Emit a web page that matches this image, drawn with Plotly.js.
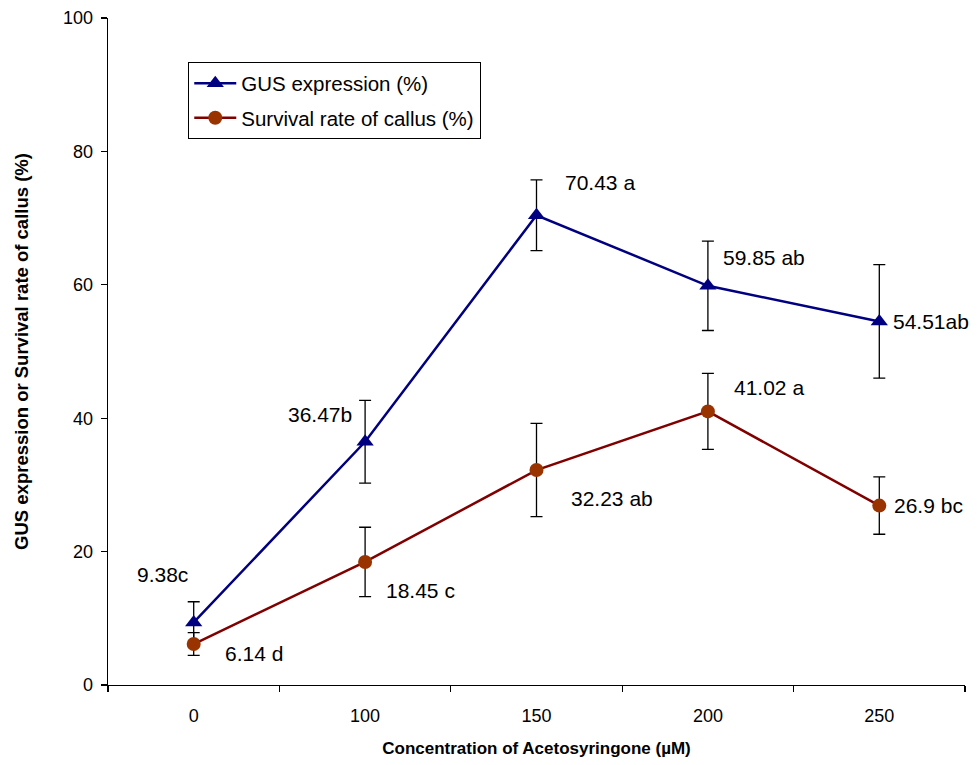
<!DOCTYPE html>
<html>
<head>
<meta charset="utf-8">
<script src="https://cdn.plot.ly/plotly-3.0.1.min.js"></script>
<style>html,body{margin:0;padding:0;background:#fff;}#chart{width:980px;height:765px;}</style>
</head>
<body>
<div id="chart"></div>
<script>
const categories = ['0', '100', '150', '200', '250'];
const gusValues = [9.38, 36.47, 70.43, 59.85, 54.51];
const gusErrors = [3.1, 6.2, 5.3, 6.7, 8.5];
const gusLabels = ['9.38c', '36.47b', '70.43 a', '59.85 ab', '54.51ab'];
const survValues = [6.14, 18.45, 32.23, 41.02, 26.9];
const survErrors = [1.7, 5.2, 7.0, 5.7, 4.3];
const survLabels = ['6.14 d', '18.45 c', '32.23 ab', '41.02 a', '26.9 bc'];

const gusOffsets = [[-31, 48], [-45, 27], [63, 33], [56, 28], [52, 0]];
const survOffsets = [[60, -9], [55, -29], [75, -28], [61, 24], [49, 0]];

const FONT = 'Liberation Sans, Arial, sans-serif';

const errStyle = v => ({type: 'data', array: v, visible: true, color: '#000', thickness: 1.3, width: 6});

const traces = [
  {
    x: categories, y: gusValues, name: 'GUS expression (%)', type: 'scatter', mode: 'lines+markers',
    line: {color: '#000080', width: 2.5},
    marker: {symbol: 'triangle-up', size: 15, color: '#000080'},
    error_y: errStyle(gusErrors), legendgroup: 'a'
  },
  {
    x: categories, y: survValues, name: 'Survival rate of callus (%)', type: 'scatter', mode: 'lines+markers',
    line: {color: '#800000', width: 2.5},
    marker: {symbol: 'circle', size: 14, color: '#993300'},
    error_y: errStyle(survErrors), legendgroup: 'b'
  }
];

const annotations = [];
gusLabels.forEach((t, i) => annotations.push({
  x: i, y: gusValues[i], xref: 'x', yref: 'y', text: t, showarrow: false,
  xshift: gusOffsets[i][0], yshift: gusOffsets[i][1], font: {family: FONT, size: 21, color: '#000'}
}));
survLabels.forEach((t, i) => annotations.push({
  x: i, y: survValues[i], xref: 'x', yref: 'y', text: t, showarrow: false,
  xshift: survOffsets[i][0], yshift: survOffsets[i][1], font: {family: FONT, size: 21, color: '#000'}
}));

const layout = {
  width: 980, height: 765,
  margin: {l: 108, r: 15, t: 18, b: 80},
  paper_bgcolor: '#fff', plot_bgcolor: '#fff',
  font: {family: FONT, color: '#000'},
  showlegend: true,
  legend: {
    x: 0.0933, y: 0.934, xanchor: 'left', yanchor: 'top',
    bordercolor: '#000', borderwidth: 1.3, bgcolor: '#fff',
    font: {family: FONT, size: 20.5, color: '#000'},
    traceorder: 'grouped', tracegroupgap: 5, itemwidth: 42
  },
  xaxis: {
    type: 'category', range: [-0.5, 4.5], tickson: 'boundaries',
    ticks: 'outside', ticklen: 6, tickcolor: '#000', tickwidth: 1.3,
    showline: true, linecolor: '#000', linewidth: 1.3, showgrid: false, zeroline: false,
    tickfont: {family: FONT, size: 18, color: '#000'}, ticklabelstandoff: 14,
    title: {text: 'Concentration of Acetosyringone (µM)', font: {family: FONT, size: 17, color: '#000', weight: 'bold'}, standoff: 17}
  },
  yaxis: {
    range: [0, 100], dtick: 20, ticks: 'outside', ticklen: 6, tickcolor: '#000', tickwidth: 1.3,
    showline: true, linecolor: '#000', linewidth: 1.3, showgrid: false, zeroline: false,
    tickfont: {family: FONT, size: 18, color: '#000'}, ticklabelstandoff: 4,
    title: {text: 'GUS expression or Survival rate of callus (%)', font: {family: FONT, size: 18.5, color: '#000', weight: 'bold'}, standoff: 29}
  },
  annotations: annotations
};

Plotly.newPlot('chart', traces, layout, {displayModeBar: false, staticPlot: true});
</script>
</body>
</html>
